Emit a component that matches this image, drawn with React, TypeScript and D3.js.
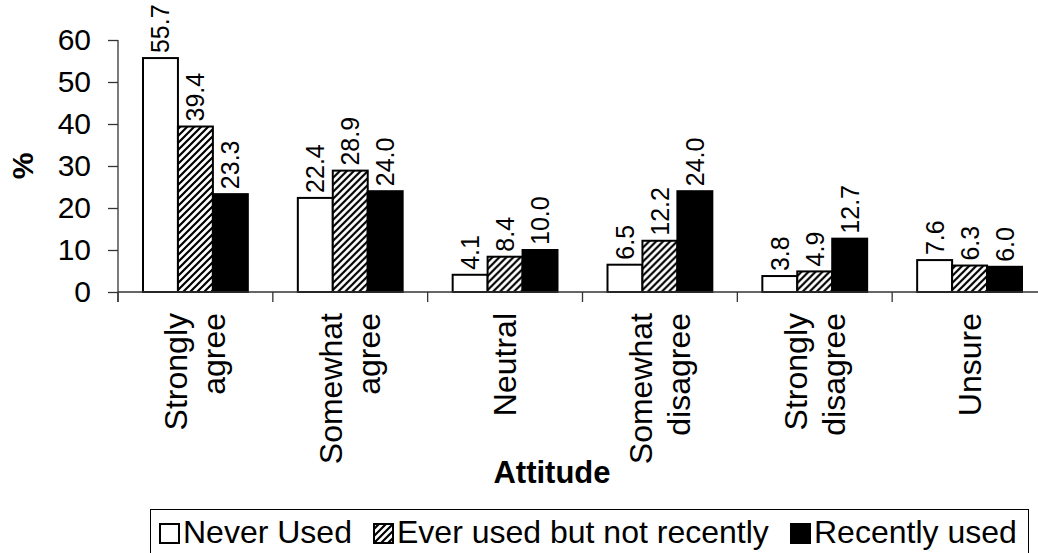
import * as d3 from "d3";
import { useEffect, useRef } from "react";

const categories = [
  ["Strongly", "agree"],
  ["Somewhat", "agree"],
  ["Neutral"],
  ["Somewhat", "disagree"],
  ["Strongly", "disagree"],
  ["Unsure"],
];
const seriesNames = ["Never Used", "Ever used but not recently", "Recently used"];
const neverUsed = [55.7, 22.4, 4.1, 6.5, 3.8, 7.6];
const everUsed = [39.4, 28.9, 8.4, 12.2, 4.9, 6.3];
const recentlyUsed = [23.3, 24.0, 10.0, 24.0, 12.7, 6.0];
const yTicks = [0, 10, 20, 30, 40, 50, 60];

const FONT = "'Liberation Sans', Arial, sans-serif";

export default function App() {
  const ref = useRef<SVGSVGElement>(null);

  useEffect(() => {
    if (!ref.current) return;
    const svg = d3.select(ref.current);
    svg.selectAll("*").remove();

    const width = 1038;
    const height = 553;
    svg.attr("width", width).attr("height", height).attr("viewBox", `0 0 ${width} ${height}`);

    const fills = ["#fff", "url(#hatch)", "#000"];
    const series = [neverUsed, everUsed, recentlyUsed];
    const keys = categories.map((c) => c.join(" "));

    const defs = svg.append("defs");
    const pat = defs
      .append("pattern")
      .attr("id", "hatch")
      .attr("patternUnits", "userSpaceOnUse")
      .attr("width", 7)
      .attr("height", 7);
    pat.append("rect").attr("width", 7).attr("height", 7).attr("fill", "#fff");
    pat
      .append("path")
      .attr("d", "M-1,8 L8,-1 M-2,2 L2,-2 M5,9 L9,5")
      .attr("stroke", "#000")
      .attr("stroke-width", 2.2);

    const x = d3.scaleBand().domain(keys).range([118, 1047]).padding(0);
    const xs = d3
      .scaleBand()
      .domain(seriesNames)
      .range([25, x.bandwidth() - 25])
      .padding(0);
    const y = d3.scaleLinear().domain([0, 60]).range([292, 40]);

    // y axis
    const yAxis = svg
      .append("g")
      .attr("transform", `translate(118,0)`)
      .call(d3.axisLeft(y).tickValues(yTicks).tickSize(10).tickPadding(17).tickFormat(d3.format("d")));
    yAxis.select(".domain").attr("d", `M0,${y(60)}V302`).attr("stroke", "#333").attr("stroke-width", 1.3);
    yAxis.selectAll("line").attr("stroke", "#333").attr("stroke-width", 1.3);
    yAxis
      .selectAll("text")
      .attr("font-family", FONT)
      .attr("font-size", 30)
      .attr("fill", "#000");

    svg
      .append("text")
      .attr("transform", `translate(33,${(y(0) + y(60)) / 2}) rotate(-90)`)
      .attr("text-anchor", "middle")
      .attr("font-family", FONT)
      .attr("font-size", 30)
      .attr("font-weight", "bold")
      .text("%");

    // bars
    const groups = svg
      .append("g")
      .selectAll("g")
      .data(keys)
      .join("g")
      .attr("transform", (d) => `translate(${x(d)},0)`);

    groups.each(function (_, ci) {
      const g = d3.select(this);
      seriesNames.forEach((s, si) => {
        const v = series[si][ci];
        const bx = xs(s) ?? 0;
        g.append("rect")
          .attr("x", bx)
          .attr("y", y(v))
          .attr("width", xs.bandwidth())
          .attr("height", y(0) - y(v))
          .attr("fill", fills[si])
          .attr("stroke", "#000")
          .attr("stroke-width", 2);
        g.append("text")
          .attr("transform", `translate(${bx + xs.bandwidth() / 2 + 9},${y(v) - 5}) rotate(-90)`)
          .attr("font-family", FONT)
          .attr("font-size", 25)
          .text(d3.format(".1f")(v));
      });
    });

    // x axis
    const xAxis = svg.append("g").attr("transform", `translate(0,${y(0)})`);
    xAxis
      .append("line")
      .attr("x1", 118)
      .attr("x2", width)
      .attr("stroke", "#333")
      .attr("stroke-width", 1.3);
    xAxis
      .selectAll("line.tick")
      .data(keys)
      .join("line")
      .attr("class", "tick")
      .attr("x1", (d) => x(d) ?? 0)
      .attr("x2", (d) => x(d) ?? 0)
      .attr("y1", 0)
      .attr("y2", 10)
      .attr("stroke", "#333")
      .attr("stroke-width", 1.3);

    const lineH = 38;
    categories.forEach((lines, i) => {
      const cx = (x(keys[i]) ?? 0) + x.bandwidth() / 2;
      const first = cx - ((lines.length - 1) * lineH) / 2 + 11;
      lines.forEach((t, li) => {
        svg
          .append("text")
          .attr("transform", `translate(${first + li * lineH},313) rotate(-90)`)
          .attr("text-anchor", "end")
          .attr("font-family", FONT)
          .attr("font-size", 32)
          .text(t);
      });
    });

    svg
      .append("text")
      .attr("x", 552)
      .attr("y", 483)
      .attr("text-anchor", "middle")
      .attr("font-family", FONT)
      .attr("font-size", 31)
      .attr("font-weight", "bold")
      .text("Attitude");

    // legend
    const legend = svg.append("g");
    legend
      .append("rect")
      .attr("x", 150.5)
      .attr("y", 509.5)
      .attr("width", 878)
      .attr("height", 60)
      .attr("fill", "#fff")
      .attr("stroke", "#000")
      .attr("stroke-width", 1);
    const itemX = [159, 373, 790];
    seriesNames.forEach((s, i) => {
      legend
        .append("rect")
        .attr("x", itemX[i] + 1)
        .attr("y", 524)
        .attr("width", 19)
        .attr("height", 19)
        .attr("fill", fills[i])
        .attr("stroke", "#000")
        .attr("stroke-width", 2);
      legend
        .append("text")
        .attr("x", itemX[i] + 24)
        .attr("y", 543)
        .attr("font-family", FONT)
        .attr("font-size", 32)
        .text(s);
    });
  }, []);

  return (
    <svg
      ref={ref}
      style={{ position: "absolute", left: 0, top: 0, background: "#fff" }}
      role="img"
      aria-label="Attitude by use"
    />
  );
}
